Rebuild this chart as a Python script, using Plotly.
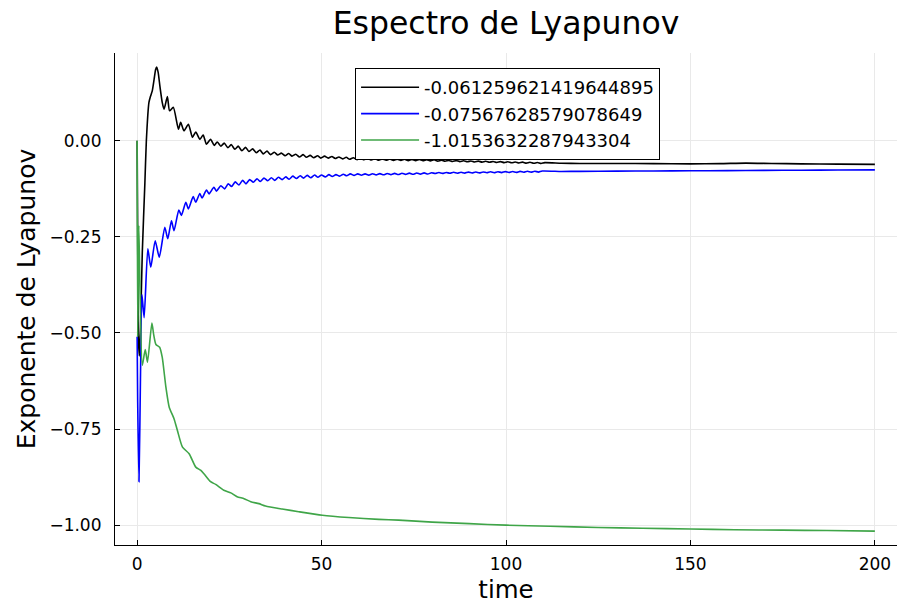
import plotly.graph_objects as go

# ---- data ----
black_t = [0, 0.3, 0.6, 1.0, 1.4, 2.1, 2.5, 3.2, 3.6, 4.1, 4.6, 5.0, 5.3, 5.7, 6.2, 6.8, 7.3, 8.2, 8.8, 9.8,
           11.2, 11.8, 12.7, 13.9, 15.0, 15.9, 17.0, 17.9, 18.8, 19.9, 20.9, 21.7,
           22.7, 23.6, 24.6, 25.5, 26.5, 27.4, 28.4, 29.4, 30.3, 31.3, 32.3, 33.3, 34.2, 35.2, 36.2, 37.2,
           38.1, 39.1, 40.1, 41.1, 42.0, 43.0, 44.0, 45.0, 45.9, 46.9, 47.9, 48.9, 49.8, 50.8, 51.8, 52.8,
           53.7, 54.7, 55.7, 56.7, 57.6, 58.6, 59.6, 60.6,
           61.5, 62.5, 63.5, 64.5, 65.5, 66.5, 67.5, 68.5, 69.5, 70.5, 71.5, 72.5, 73.5, 74.5, 75.5, 76.5,
           77.5, 78.5, 79.5, 80.5,
           81.5, 82.5, 83.5, 84.5, 85.5, 86.5, 87.5, 88.5, 89.5, 90.5, 91.5, 92.5, 93.5, 94.5, 95.5, 96.5,
           97.5, 98.5, 99.5, 100.5, 101.5, 102.5, 103.5, 104.5, 105.5, 106.5, 107.5, 108.5, 109.5, 110.5,
           115, 120, 130, 140, 150, 158, 165, 172, 180, 190, 200]
black_y = [0.0, -0.50, -0.56, -0.45, -0.29, -0.11, 0.0, 0.10, 0.115, 0.13, 0.16, 0.185, 0.192, 0.178, 0.14, 0.10, 0.082, 0.115, 0.078, 0.087,
           0.030, 0.048, 0.026, 0.043, 0.009, 0.023, 0.004, 0.015, -0.009, 0.004, -0.012, -0.003,
           -0.014, -0.006, -0.018, -0.010, -0.022, -0.014, -0.026, -0.017, -0.028, -0.021, -0.031, -0.024, -0.034, -0.027, -0.036, -0.030,
           -0.037, -0.032, -0.039, -0.033, -0.040, -0.035, -0.042, -0.036, -0.043, -0.038, -0.044, -0.039, -0.045, -0.040, -0.045, -0.041,
           -0.046, -0.042, -0.047, -0.043, -0.048, -0.044, -0.049, -0.045,
           -0.0495, -0.0460, -0.0500, -0.0465, -0.0505, -0.0470, -0.0508, -0.0474, -0.0510, -0.0478, -0.0513, -0.0480, -0.0515, -0.0483, -0.0518, -0.0486,
           -0.0520, -0.0490, -0.0522, -0.0492,
           -0.0528, -0.0506, -0.0533, -0.0511, -0.0537, -0.0515, -0.0542, -0.0520, -0.0546, -0.0524, -0.0551, -0.0529, -0.0555, -0.0533, -0.0559, -0.0538,
           -0.0564, -0.0542, -0.0568, -0.0547, -0.0573, -0.0551, -0.0577, -0.0556, -0.0582, -0.0560, -0.0586, -0.0564, -0.0591, -0.0569,
           -0.0585, -0.059, -0.059, -0.0595, -0.060, -0.0595, -0.058, -0.059, -0.060, -0.0608, -0.0613]

blue_t = [0, 0.15, 0.5, 0.9, 1.3, 1.9, 2.9, 3.7, 4.9, 6.0, 7.5, 8.3, 9.3, 10.0, 11.3, 12.0, 13.2, 13.9, 15.2, 15.9,
          17.0, 17.6, 18.8, 19.5, 20.8, 21.5,
          22.7, 23.7, 24.7, 25.6, 26.6, 27.6, 28.6, 29.5, 30.5, 31.5, 32.5, 33.4, 34.4, 35.4, 36.4, 37.3,
          38.3, 39.3, 40.3, 41.2, 42.2, 43.2, 44.2, 45.1, 46.1, 47.1, 48.1, 49.0, 50.0, 51.0, 52.0, 52.9,
          53.9, 54.9, 55.9, 56.8, 57.8, 58.8, 59.8,
          60.8, 61.8, 62.8, 63.8, 64.8, 65.8, 66.8, 67.8, 68.8, 69.8, 70.8, 71.8, 72.8, 73.8, 74.8, 75.8,
          76.8, 77.8, 78.8, 79.8,
          80.8, 81.8, 82.8, 83.8, 84.8, 85.8, 86.8, 87.8, 88.8, 89.8, 90.8, 91.8, 92.8, 93.8, 94.8, 95.8,
          96.8, 97.8, 98.8, 99.8, 100.8, 101.8, 102.8, 103.8, 104.8, 105.8, 106.8, 107.8, 108.8, 109.8,
          115, 120, 130, 140, 150, 160, 170, 180, 190, 200]
blue_y = [-0.51, -0.68, -0.887, -0.62, -0.40, -0.46, -0.281, -0.329, -0.26, -0.303, -0.225, -0.255, -0.208, -0.234, -0.180, -0.194, -0.160, -0.177, -0.145, -0.160,
          -0.137, -0.149, -0.128, -0.138, -0.121, -0.131,
          -0.117, -0.125, -0.112, -0.119, -0.107, -0.115, -0.103, -0.112, -0.101, -0.108, -0.099, -0.106, -0.097, -0.104, -0.096, -0.103,
          -0.095, -0.101, -0.094, -0.100, -0.092, -0.098, -0.091, -0.097, -0.090, -0.096, -0.089, -0.095, -0.089, -0.094, -0.088, -0.093,
          -0.088, -0.092, -0.087, -0.091, -0.086, -0.090, -0.086,
          -0.0895, -0.0862, -0.0892, -0.0858, -0.0888, -0.0855, -0.0885, -0.0852, -0.0881, -0.0848, -0.0878, -0.0845, -0.0875, -0.0842, -0.0872, -0.0838,
          -0.0868, -0.0835, -0.0865, -0.0832,
          -0.0851, -0.0826, -0.0848, -0.0823, -0.0846, -0.0820, -0.0843, -0.0818, -0.0840, -0.0815, -0.0838, -0.0812, -0.0835, -0.0810, -0.0832, -0.0807,
          -0.0830, -0.0804, -0.0827, -0.0802, -0.0824, -0.0799, -0.0822, -0.0796, -0.0819, -0.0794, -0.0816, -0.0791, -0.0814, -0.0788,
          -0.0798, -0.0795, -0.079, -0.0785, -0.078, -0.0775, -0.077, -0.0765, -0.076, -0.0757]

green_t = [0, 0.15, 0.45, 0.8, 1.4, 2.2, 2.8, 4.0, 4.5, 5.1, 6.1, 6.8, 7.8, 8.7, 10.0, 10.9, 12.3, 14.1, 15.9, 17.2,
           18.1, 19.9, 21.3, 23.5, 25.4, 27.1, 29.0, 30.8, 33.0, 34.8, 39.3, 43.8, 50.2, 57.4, 65.5, 70.9,
           80, 90, 100, 112, 125, 137, 150, 162, 175, 187, 200]
green_y = [0.0, -0.51, -0.22, -0.40, -0.584, -0.543, -0.576, -0.474, -0.505, -0.530, -0.537, -0.563, -0.641, -0.693, -0.723, -0.753, -0.797, -0.814, -0.849, -0.857,
           -0.866, -0.887, -0.894, -0.909, -0.916, -0.926, -0.931, -0.939, -0.944, -0.950, -0.958, -0.965, -0.974, -0.980, -0.985, -0.987,
           -0.992, -0.996, -1.000, -1.003, -1.006, -1.008, -1.010, -1.012, -1.013, -1.014, -1.0154]

series_names = ["-0.061259621419644895", "-0.07567628579078649", "-1.0153632287943304"]
series_colors = ["black", "#0000ff", "#3fa548"]

x_ticks = [0, 50, 100, 150, 200]
y_ticks = [0.0, -0.25, -0.5, -0.75, -1.0]

FONT = "DejaVu Sans"

fig = go.Figure()
for tt, yy, name, col in zip([black_t, blue_t, green_t], [black_y, blue_y, green_y], series_names, series_colors):
    fig.add_trace(go.Scatter(x=tt, y=yy, mode="lines", name=name,
                             line=dict(color=col, width=1.6, shape="spline", smoothing=0.6)))

axis_common = dict(showline=True, linecolor="black", linewidth=1.2, mirror=False,
                   ticks="inside", ticklen=5, tickcolor="black", tickwidth=1,
                   showgrid=True, gridcolor="#e9e9e9", gridwidth=1, zeroline=False,
                   tickfont=dict(family=FONT, size=17, color="black"))

fig.update_layout(
    width=897, height=604,
    paper_bgcolor="white", plot_bgcolor="white",
    margin=dict(l=115, r=0, t=53, b=59),
    title=dict(text="Espectro de Lyapunov", x=0.5, xref="paper", y=0.962, yref="container",
               xanchor="center", yanchor="middle", font=dict(family=FONT, size=31.5, color="black")),
    xaxis=dict(range=[-6, 206], tickvals=x_ticks, ticktext=[str(v) for v in x_ticks],
               title=dict(text="time", font=dict(family=FONT, size=24.5, color="black"), standoff=10),
               ticklabelstandoff=3, **axis_common),
    yaxis=dict(range=[-1.0516, 0.2284], tickvals=y_ticks, tickformat=".2f",
               title=dict(text="Exponente de Lyapunov", font=dict(family=FONT, size=25, color="black"), standoff=6),
               ticklabelstandoff=9, **axis_common),
    legend=dict(x=0.307, y=0.9695, xanchor="left", yanchor="top",
                bgcolor="white", bordercolor="black", borderwidth=1,
                font=dict(family=FONT, size=18, color="black"), itemwidth=58,
                tracegroupgap=0),
    showlegend=True,
    hovermode=False,
)

fig.write_html("out.html")
